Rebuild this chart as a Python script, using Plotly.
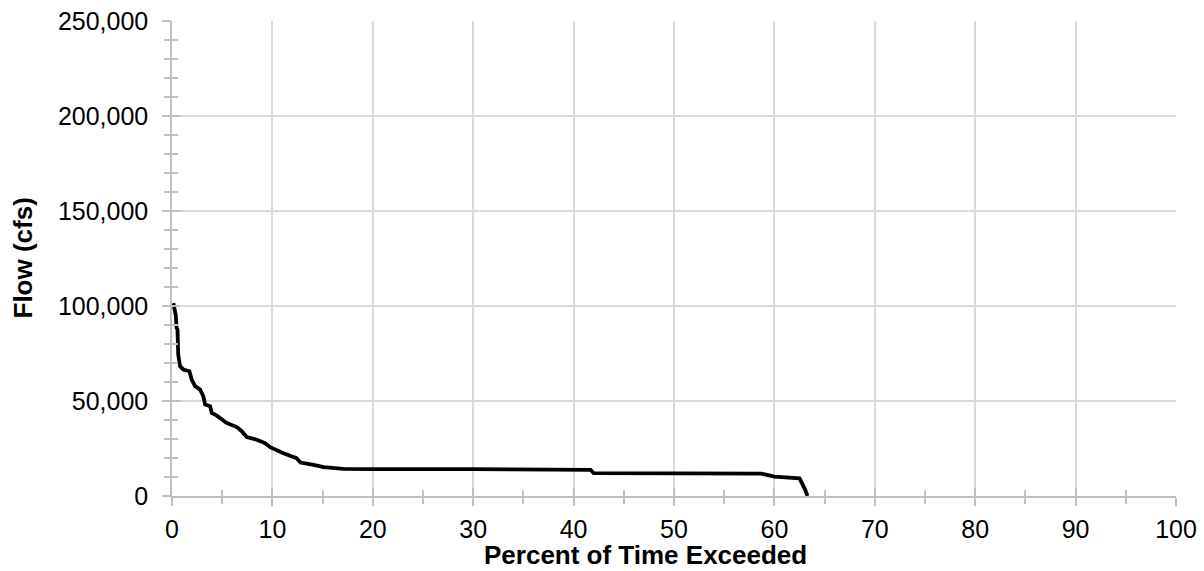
import plotly.graph_objects as go

# Flow duration curve data
percent_exceeded = [0.13, 0.3, 0.38, 0.45, 0.55, 0.62, 0.8, 1.13, 1.73, 1.96, 2.3, 2.8, 3.12,
                    3.3, 3.8, 3.96, 4.46, 5.46, 6.46, 6.96, 7.45, 8.45, 9.28, 9.78, 11.1,
                    12.4, 12.8, 14.1, 15.1, 17.1, 20.0, 30.0, 38.7, 41.7, 42.0, 50.0, 53.0,
                    58.7, 60.0, 62.5, 63.0, 63.3]
flow_cfs = [101500, 96000, 95000, 88600, 87500, 74500, 68300, 66600, 65700, 61300, 57800,
            56000, 52500, 48100, 47200, 43700, 42300, 38400, 36300, 34000, 31000, 29600,
            27800, 25700, 22500, 19900, 17600, 16400, 15200, 14300, 14100, 14100, 14000,
            13800, 12000, 12000, 11900, 11800, 10200, 9300, 4000, 0]

x_ticks = [0, 10, 20, 30, 40, 50, 60, 70, 80, 90, 100]
y_ticks = [0, 50000, 100000, 150000, 200000, 250000]
y_tick_text = ["0", "50,000", "100,000", "150,000", "200,000", "250,000"]

FONT = "Arial, 'Liberation Sans', sans-serif"
AXIS_COL = "#bfbfbf"
GRID_COL = "#d9d9d9"

fig = go.Figure()
fig.add_trace(go.Scatter(x=percent_exceeded, y=flow_cfs, mode="lines",
                         line=dict(color="black", width=3.8), showlegend=False,
                         hoverinfo="skip"))
# invisible trace so the overlay axes (inside tick halves) get drawn
fig.add_trace(go.Scatter(x=[0], y=[0], xaxis="x2", yaxis="y2", mode="markers",
                         marker=dict(opacity=0), showlegend=False, hoverinfo="skip"))

common_x = dict(range=[0, 100], tickvals=x_ticks, showline=True, linecolor=AXIS_COL,
                linewidth=1.5, zeroline=False, automargin=False)
common_y = dict(range=[0, 250000], tickvals=y_ticks, showline=True, linecolor=AXIS_COL,
                linewidth=1.5, zeroline=False, automargin=False)

fig.update_layout(
    width=1204, height=571,
    margin=dict(l=172, r=28, t=21, b=75, autoexpand=False),
    paper_bgcolor="white", plot_bgcolor="white",
    font=dict(family=FONT, size=25, color="black"),
    xaxis=dict(**common_x, showgrid=True, gridcolor=GRID_COL, gridwidth=1.5,
               ticks="outside", ticklen=8, tickwidth=1.5, tickcolor=AXIS_COL,
               tickmode="array", ticktext=[str(v) for v in x_ticks], ticklabelstandoff=2,
               minor=dict(dtick=5, tick0=0, ticks="outside", ticklen=6, tickwidth=1.5,
                          tickcolor=AXIS_COL, showgrid=False),
               tickfont=dict(size=25)),
    yaxis=dict(**common_y, showgrid=True, gridcolor=GRID_COL, gridwidth=1.5,
               ticks="outside", ticklen=8, tickwidth=1.5, tickcolor=AXIS_COL,
               tickmode="array", ticktext=y_tick_text, ticklabelstandoff=9,
               minor=dict(dtick=10000, tick0=0, ticks="outside", ticklen=6, tickwidth=1.5,
                          tickcolor=AXIS_COL, showgrid=False),
               tickfont=dict(size=25)),
    xaxis2=dict(**common_x, overlaying="x", matches="x", showgrid=False,
                showticklabels=False, ticks="inside", ticklen=8, tickwidth=1.5,
                tickcolor=AXIS_COL,
                minor=dict(dtick=5, tick0=0, ticks="inside", ticklen=6, tickwidth=1.5,
                           tickcolor=AXIS_COL, showgrid=False)),
    yaxis2=dict(**common_y, overlaying="y", matches="y", showgrid=False,
                showticklabels=False, ticks="inside", ticklen=8, tickwidth=1.5,
                tickcolor=AXIS_COL,
                minor=dict(dtick=10000, tick0=0, ticks="inside", ticklen=6, tickwidth=1.5,
                           tickcolor=AXIS_COL, showgrid=False)),
    annotations=[
        dict(text="<b>Percent of Time Exceeded</b>", xref="paper", yref="paper",
             x=(645 - 172) / 1004, y=-(555 - 496) / 475, xanchor="center", yanchor="middle",
             showarrow=False, font=dict(size=26, family=FONT, color="black")),
        dict(text="<b>Flow (cfs)</b>", xref="paper", yref="paper",
             x=-(172 - 22) / 1004, y=0.5, xanchor="center", yanchor="middle", textangle=-90,
             showarrow=False, font=dict(size=26, family=FONT, color="black")),
    ],
)

fig.write_html("out.html",
               config={"displayModeBar": False, "responsive": False},
               post_script="document.body.style.margin='0';document.body.style.padding='0';"
                           "document.body.style.overflow='hidden';")
